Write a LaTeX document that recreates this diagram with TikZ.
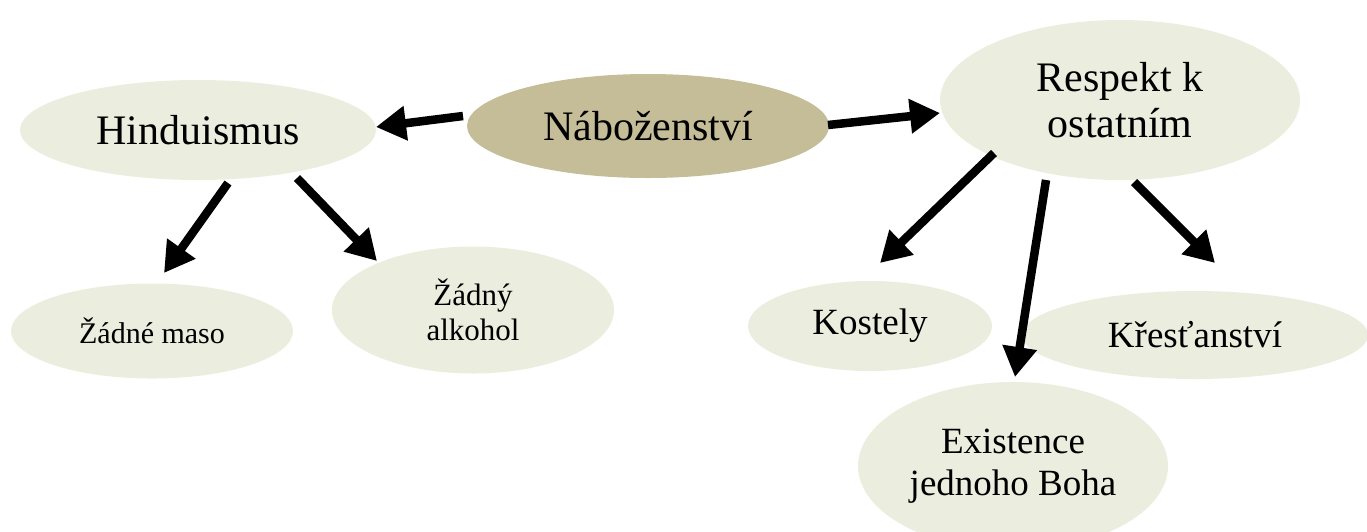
\documentclass[tikz,border=0pt]{standalone}
\usepackage{fontspec}
\setmainfont{Liberation Serif}
\usetikzlibrary{shapes.geometric,arrows.meta}
\definecolor{leaf}{HTML}{EBEEDE}
\definecolor{hub}{HTML}{C4BD97}
\tikzset{
  bubble/.style={ellipse, fill=leaf, draw=none, inner sep=0pt, align=center, text=black},
  hubbubble/.style={bubble, fill=hub},
  arr/.style={line width=8.5pt, -{Triangle[length=30pt,width=33pt]}, black}
}
\begin{document}
\begin{tikzpicture}[x=1pt,y=-1pt]
\useasboundingbox (0,0) rectangle (1367,531);
% ellipses
\node[hubbubble, minimum width=362pt, minimum height=104pt, font=\fontsize{42}{46}\selectfont] (nab) at (648,126) {Náboženství};
\node[bubble, minimum width=356pt, minimum height=100pt, font=\fontsize{42}{46}\selectfont] (hin) at (198,130) {Hinduismus};
\node[bubble, minimum width=360pt, minimum height=160pt, font=\fontsize{42}{46}\selectfont] (res) at (1120,100) {Respekt k\\ostatním};
\node[bubble, minimum width=282pt, minimum height=95pt, font=\fontsize{30}{34}\selectfont] (maso) at (152,331) {Žádné maso};
\node[bubble, minimum width=282pt, minimum height=127pt, font=\fontsize{31}{35}\selectfont] (alk) at (473,310) {Žádný\\alkohol};
\node[bubble, minimum width=244pt, minimum height=90pt, font=\fontsize{37}{42}\selectfont] (kos) at (870,326) {Kostely};
\node[bubble, minimum width=346pt, minimum height=88pt, font=\fontsize{37}{42}\selectfont] (kre) at (1195,335) {Křesťanství};
\node[bubble, minimum width=310pt, minimum height=168pt, font=\fontsize{37}{42}\selectfont] (ex) at (1013,466) {Existence\\jednoho Boha};
% arrow ends
\coordinate (nabL) at (463,116);
\coordinate (hinR) at (376,127);
\coordinate (nabR) at (828,125);
\coordinate (resL) at (940,113);
\coordinate (hinA) at (228,183);
\coordinate (masoT) at (164,273);
\coordinate (hinB) at (297,178);
\coordinate (alkT) at (377,261);
\coordinate (resA) at (994,153);
\coordinate (kosT) at (880,263);
\coordinate (resB) at (1046,180);
\coordinate (exT) at (1015,377);
\coordinate (resC) at (1134,182);
\coordinate (kreT) at (1215,263);
% arrows
\draw[arr] (nabL) -- (hinR);
\draw[arr] (nabR) -- (resL);
\draw[arr] (hinA) -- (masoT);
\draw[arr] (hinB) -- (alkT);
\draw[arr] (resA) -- (kosT);
\draw[arr] (resB) -- (exT);
\draw[arr] (resC) -- (kreT);
\end{tikzpicture}
\end{document}
